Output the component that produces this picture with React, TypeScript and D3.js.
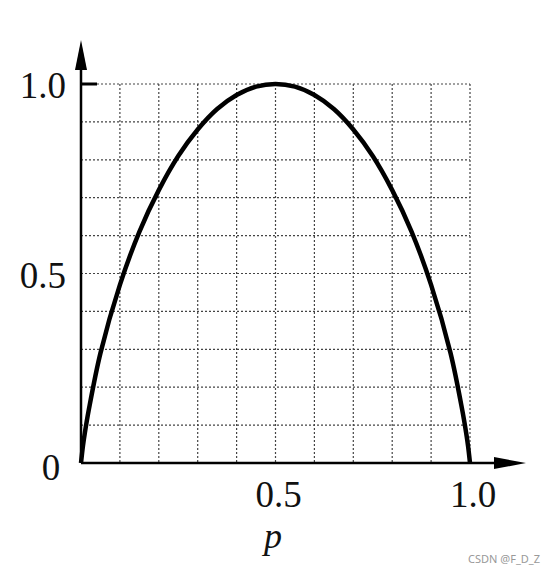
import { useRef, useEffect } from 'react';
import * as d3 from 'd3';

// curve points
const P_VALUES = [0, 0.005, 0.01, 0.02, 0.05, 0.1, 0.15, 0.2, 0.25, 0.3, 0.35, 0.4, 0.45, 0.5, 0.55, 0.6, 0.65, 0.7, 0.75, 0.8, 0.85, 0.9, 0.95, 0.98, 0.99, 0.995, 1];
const H_VALUES = [0, 0.045, 0.08, 0.14, 0.29, 0.47, 0.61, 0.72, 0.81, 0.88, 0.934, 0.971, 0.993, 1, 0.993, 0.971, 0.934, 0.88, 0.81, 0.72, 0.61, 0.47, 0.29, 0.14, 0.08, 0.045, 0];
const GRID_STEPS = [0, 0.1, 0.2, 0.3, 0.4, 0.5, 0.6, 0.7, 0.8, 0.9, 1];
const Y_TICKS = [
  { v: 1, label: '1.0' },
  { v: 0.5, label: '0.5' },
];
const X_TICKS = [
  { v: 0.5, label: '0.5' },
  { v: 1, label: '1.0' },
];

const W = 556;
const H = 574;
const SERIF = '"Liberation Serif", "DejaVu Serif", serif';

export default function App() {
  const svgRef = useRef<SVGSVGElement>(null);

  useEffect(() => {
    const svg = d3.select(svgRef.current);
    svg.selectAll('*').remove();

    const x = d3.scaleLinear().domain([0, 1]).range([81, 470]);
    const y = d3.scaleLinear().domain([0, 1]).range([463, 84]);

    svg.append('rect').attr('width', W).attr('height', H).attr('fill', '#fff');

    // dotted grid
    const grid = svg.append('g')
      .attr('stroke', '#444')
      .attr('stroke-width', 1.2)
      .attr('stroke-dasharray', '2,2');
    grid.selectAll('.vg')
      .data(GRID_STEPS.slice(1))
      .join('line')
      .attr('x1', d => x(d)).attr('x2', d => x(d))
      .attr('y1', y(1)).attr('y2', y(0));
    grid.selectAll('.hg')
      .data(GRID_STEPS.slice(1))
      .join('line')
      .attr('y1', d => y(d)).attr('y2', d => y(d))
      .attr('x1', x(0)).attr('x2', x(1));

    // axes with arrows
    const axes = svg.append('g').attr('stroke', '#000').attr('stroke-width', 2.5);
    axes.append('line').attr('x1', x(0)).attr('x2', 500).attr('y1', y(0)).attr('y2', y(0));
    axes.append('line').attr('x1', x(0)).attr('x2', x(0)).attr('y1', y(0)).attr('y2', 66);
    svg.append('path')
      .attr('d', `M${x(0)},40 L${x(0) - 6},70 L${x(0) + 6},70 Z`)
      .attr('fill', '#000');
    svg.append('path')
      .attr('d', `M526,${y(0)} L494,${y(0) - 6} L494,${y(0) + 6} Z`)
      .attr('fill', '#000');

    // short tick at 1.0 on the y axis
    svg.append('line')
      .attr('x1', x(0)).attr('x2', x(0) + 16)
      .attr('y1', y(1)).attr('y2', y(1))
      .attr('stroke', '#000').attr('stroke-width', 3);

    // curve
    const line = d3.line<number>()
      .x((_, i) => x(P_VALUES[i]))
      .y(d => y(d))
      .curve(d3.curveCatmullRom.alpha(0.5));
    svg.append('path')
      .attr('d', line(H_VALUES))
      .attr('fill', 'none')
      .attr('stroke', '#000')
      .attr('stroke-width', 4.5)
      .attr('stroke-linejoin', 'round');

    // labels
    const text = svg.append('g')
      .attr('font-family', SERIF)
      .attr('font-size', 37)
      .attr('fill', '#111');
    text.selectAll('.yl')
      .data(Y_TICKS)
      .join('text')
      .attr('x', 66)
      .attr('y', d => y(d.v) + 14)
      .attr('text-anchor', 'end')
      .text(d => d.label);
    text.append('text')
      .attr('x', 51).attr('y', 480)
      .attr('text-anchor', 'middle')
      .text('0');
    text.selectAll('.xl')
      .data(X_TICKS)
      .join('text')
      .attr('x', d => x(d.v) + 3)
      .attr('y', 507)
      .attr('text-anchor', 'middle')
      .text(d => d.label);
    text.append('text')
      .attr('x', 273).attr('y', 548)
      .attr('text-anchor', 'middle')
      .attr('font-style', 'italic')
      .attr('font-size', 36)
      .text('p');

    svg.append('text')
      .attr('x', 540).attr('y', 563)
      .attr('text-anchor', 'end')
      .attr('font-family', '"Noto Sans", sans-serif')
      .attr('font-size', 11)
      .attr('fill', '#999')
      .text('CSDN @F_D_Z');
  }, []);

  return (
    <svg
      ref={svgRef}
      width={W}
      height={H}
      style={{ display: 'block', position: 'absolute', left: 0, top: 0 }}
    />
  );
}
